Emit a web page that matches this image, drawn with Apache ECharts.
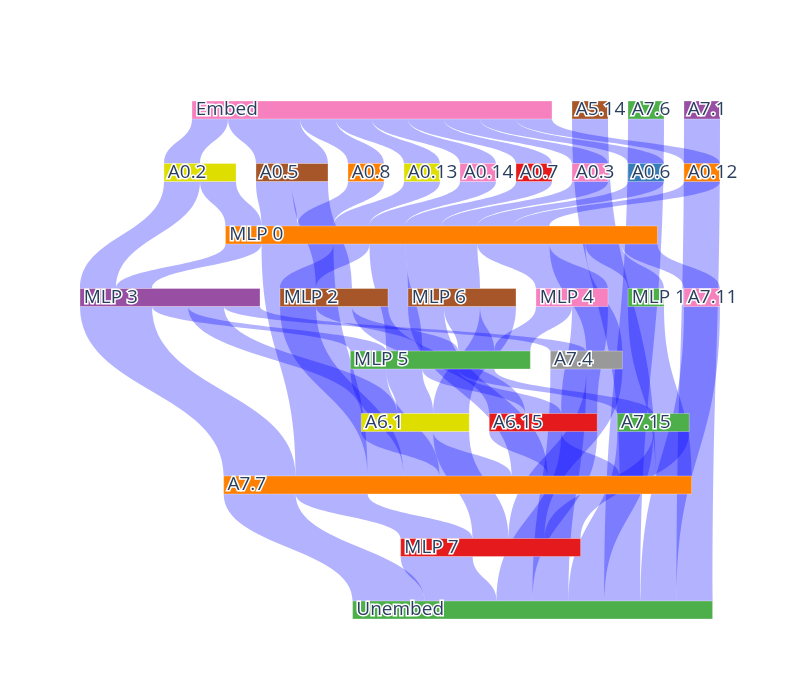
<!DOCTYPE html>
<html>
<head>
<meta charset="utf-8">
<script src="https://cdn.jsdelivr.net/npm/echarts@6/dist/echarts.min.js"></script>
<style>
html,body{margin:0;padding:0;background:#fff;}
#chart{width:800px;height:700px;}
</style>
</head>
<body>
<div id="chart"></div>
<script>
// Node names (ordered left-to-right within each row of the reference)
var nodeNames = [
  'Embed','A5.14','A7.6','A7.1',
  'A0.2','A0.5','A0.8','A0.13','A0.14','A0.7','A0.3','A0.6','A0.12',
  'MLP 0',
  'MLP 3','MLP 2','MLP 6','MLP 4','MLP 1','A7.11',
  'MLP 5','A7.4',
  'A6.1','A6.15','A7.15',
  'A7.7',
  'MLP 7',
  'Unembed'
];
var nodeColors = [
  '#f781bf','#a65628','#4daf4a','#984ea3',
  '#dede00','#a65628','#ff7f00','#dede00','#f781bf','#e41a1c','#f781bf','#377eb8','#ff7f00',
  '#ff7f00',
  '#984ea3','#a65628','#a65628','#f781bf','#4daf4a','#f781bf',
  '#4daf4a','#999999',
  '#dede00','#e41a1c','#4daf4a',
  '#ff7f00',
  '#e41a1c',
  '#4daf4a'
];
// Links
var linkSources = [
  'Embed','Embed','Embed','Embed','Embed','Embed','Embed','Embed','Embed',
  'A0.2','A0.2','A0.5','A0.5','A0.8','A0.13','A0.14','A0.7','A0.3','A0.6','A0.12',
  'MLP 0','MLP 0','MLP 0','MLP 0','MLP 0','MLP 0','MLP 0','MLP 0','MLP 0',
  'MLP 3','MLP 3','MLP 3','MLP 3',
  'MLP 2','MLP 2','MLP 2',
  'MLP 6','MLP 6','MLP 6',
  'MLP 4','MLP 4',
  'MLP 1',
  'A7.11',
  'MLP 5','MLP 5','MLP 5','MLP 5',
  'A7.4','A7.4',
  'A6.1','A6.1',
  'A6.15','A6.15',
  'A7.15','A7.15',
  'A5.14',
  'A7.7','A7.7',
  'MLP 7',
  'A7.6','A7.1'
];
var linkTargets = [
  'A0.2','A0.5','A0.8','A0.13','A0.14','A0.7','A0.3','A0.6','A0.12',
  'MLP 3','MLP 0','MLP 0','MLP 2','MLP 0','MLP 0','MLP 0','MLP 0','MLP 0','MLP 0','MLP 0',
  'MLP 3','MLP 2','MLP 6','MLP 4','MLP 1','A7.11','MLP 5','A7.4','A7.7',
  'MLP 5','A6.1','A7.7','A7.4',
  'MLP 5','A6.15','A7.7',
  'MLP 5','A6.1','A7.7',
  'MLP 5','A6.15',
  'A7.7',
  'Unembed',
  'A6.1','A6.15','A7.15','A7.7',
  'MLP 7','Unembed',
  'A7.7','MLP 7',
  'A7.7','Unembed',
  'MLP 7','Unembed',
  'A7.7',
  'MLP 7','Unembed',
  'Unembed',
  'Unembed','Unembed'
];
var linkValues = [
  1,2,1,1,1,1,1,1,1,
  1,1,1,1,1,1,1,1,1,1,1,
  1,1,2,2,1,1,1,1,2,
  1,1,2,1,
  1,1,1,
  1,1,1,
  1,1,
  1,
  1,
  1,1,1,1,
  1,1,
  2,1,
  2,1,
  1,1,
  1,
  2,2,
  2,
  1,1
];

var nodes = nodeNames.map(function (n, i) {
  return { name: n, itemStyle: { color: nodeColors[i] } };
});
var links = linkSources.map(function (s, i) {
  return { source: s, target: linkTargets[i], value: linkValues[i] };
});

var chart = echarts.init(document.getElementById('chart'), null, { renderer: 'canvas' });
chart.setOption({
  backgroundColor: '#fff',
  animation: false,
  series: [{
    type: 'sankey',
    orient: 'vertical',
    left: 80,
    right: 80,
    top: 101,
    bottom: 81,
    nodeWidth: 18,
    nodeGap: 20,
    layoutIterations: 60,
    nodeAlign: 'justify',
    emphasis: { disabled: true },
    data: nodes,
    links: links,
    itemStyle: { borderWidth: 0.5, borderColor: 'rgba(255,255,255,0.6)', opacity: 1 },
    lineStyle: { color: '#0000ff', opacity: 0.3, curveness: 0.5 },
    label: {
      show: true,
      position: 'insideLeft',
      distance: 4,
      fontFamily: 'Open Sans',
      fontSize: 19,
      color: '#2a3f5f',
      textBorderColor: '#ffffff',
      textBorderWidth: 3
    }
  }]
});
</script>
</body>
</html>
